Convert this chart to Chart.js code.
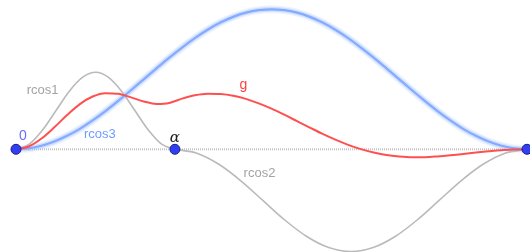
<!DOCTYPE html>
<html>
<head>
<meta charset="utf-8">
<script src="https://cdn.jsdelivr.net/npm/chart.js"></script>
<style>
    html, body { margin: 0; padding: 0; background: #fff; }
    #box { width: 530px; height: 252px; position: relative; }
</style>
</head>
<body>
<div id="box"><canvas id="grafico"></canvas></div>
<script>
// x goes from 0 (first point) to 1 (last point), alpha sits in between
const alfa = 0.311;

const xsCheio = [0, 0.025, 0.05, 0.075, 0.1, 0.125, 0.15, 0.175, 0.2, 0.225, 0.25, 0.275, 0.3, 0.325, 0.35, 0.375, 0.4, 0.425, 0.45, 0.475, 0.5,
    0.525, 0.55, 0.575, 0.6, 0.625, 0.65, 0.675, 0.7, 0.725, 0.75, 0.775, 0.8, 0.825, 0.85, 0.875, 0.9, 0.925, 0.95, 0.975, 1];
const rcos3 = [0, 0.006, 0.025, 0.055, 0.096, 0.146, 0.206, 0.273, 0.346, 0.422, 0.5, 0.578, 0.655, 0.727, 0.794, 0.854, 0.905, 0.946, 0.976, 0.994, 1.0,
    0.994, 0.976, 0.946, 0.905, 0.854, 0.794, 0.727, 0.655, 0.578, 0.5, 0.422, 0.346, 0.273, 0.206, 0.146, 0.096, 0.055, 0.025, 0.006, 0];
const g = [0, 0.020, 0.077, 0.157, 0.245, 0.323, 0.377, 0.401, 0.396, 0.371, 0.342, 0.324, 0.331, 0.362, 0.386, 0.397, 0.395, 0.383, 0.360, 0.328, 0.290,
    0.247, 0.201, 0.155, 0.110, 0.069, 0.032, 0.001, -0.023, -0.041, -0.051, -0.056, -0.056, -0.051, -0.043, -0.033, -0.023, -0.014, -0.006, -0.002, 0];

const xsRcos1 = [0, 0.026, 0.052, 0.078, 0.104, 0.130, 0.156, 0.181, 0.207, 0.233, 0.259, 0.285, 0.311];
const rcos1 = [0, 0.037, 0.138, 0.275, 0.413, 0.513, 0.55, 0.513, 0.413, 0.275, 0.138, 0.037, 0];

const xsRcos2 = [0.311, 0.354, 0.397, 0.440, 0.483, 0.526, 0.569, 0.612, 0.656, 0.699, 0.742, 0.785, 0.828, 0.871, 0.914, 0.957, 1.0];
const rcos2 = [0, -0.028, -0.107, -0.225, -0.365, -0.505, -0.623, -0.702, -0.73, -0.702, -0.623, -0.505, -0.365, -0.225, -0.107, -0.028, 0];

const pontosX = [0, alfa, 1];
const pontosY = [0, 0, 0];

function juntaPontos(xs, ys) {
    return xs.map((x, i) => ({ x: x, y: ys[i] }));
}

function linha(dados, cor, largura) {
    return {
        data: dados,
        borderColor: cor,
        borderWidth: largura,
        pointRadius: 0,
        fill: false,
        cubicInterpolationMode: 'monotone',
        clip: false
    };
}

// text labels, anchored in data coordinates
const rotulos = [
    { texto: '0', x: 0.0137, y: 0.095, cor: '#6b6bff', fonte: '14px "Liberation Sans", Arial, sans-serif' },
    { texto: 'rcos1', x: 0.052, y: 0.424, cor: '#a3a3a3', fonte: '13px "Liberation Sans", Arial, sans-serif' },
    { texto: 'rcos3', x: 0.164, y: 0.109, cor: '#6f9bff', fonte: '13px "Liberation Sans", Arial, sans-serif' },
    { texto: '\u03b1', x: 0.311, y: 0.081, cor: '#222222', fonte: 'italic 15px "DejaVu Serif", serif' },
    { texto: 'g', x: 0.445, y: 0.459, cor: '#ff4040', fonte: '14px "Liberation Sans", Arial, sans-serif' },
    { texto: 'rcos2', x: 0.4765, y: -0.169, cor: '#a3a3a3', fonte: '13px "Liberation Sans", Arial, sans-serif' }
];

const pluginRotulos = {
    id: 'rotulos',
    afterDatasetsDraw(chart) {
        const ctx = chart.ctx;
        const sx = chart.scales.x;
        const sy = chart.scales.y;
        ctx.save();
        ctx.textAlign = 'center';
        ctx.textBaseline = 'middle';
        rotulos.forEach((r) => {
            ctx.font = r.fonte;
            ctx.fillStyle = r.cor;
            ctx.fillText(r.texto, sx.getPixelForValue(r.x), sy.getPixelForValue(r.y));
        });
        ctx.restore();
    }
};

const eixo = linha(juntaPontos([0, 1], [0, 0]), '#c4c4c4', 2);
eixo.borderDash = [1, 1];
eixo.cubicInterpolationMode = 'default';

const pontos = {
    type: 'scatter',
    data: juntaPontos(pontosX, pontosY),
    pointRadius: 5,
    pointBackgroundColor: '#3040f0',
    pointBorderColor: '#1c1c8c',
    pointBorderWidth: 1,
    showLine: false,
    clip: false
};

const grafico = new Chart(document.getElementById('grafico'), {
    type: 'line',
    data: {
        datasets: [
            pontos,
            linha(juntaPontos(xsCheio, g), '#ff5050', 2),
            linha(juntaPontos(xsCheio, rcos3), '#85aaff', 2.2),
            linha(juntaPontos(xsCheio, rcos3), 'rgba(150,185,255,0.35)', 5),
            linha(juntaPontos(xsCheio, rcos3), 'rgba(170,200,255,0.2)', 8),
            linha(juntaPontos(xsRcos1, rcos1), '#bababa', 1.6),
            linha(juntaPontos(xsRcos2, rcos2), '#bababa', 1.6),
            eixo
        ]
    },
    options: {
        responsive: true,
        maintainAspectRatio: false,
        animation: false,
        layout: { padding: 0, autoPadding: false },
        plugins: {
            legend: { display: false },
            tooltip: { enabled: false }
        },
        scales: {
            x: { type: 'linear', min: -0.0313, max: 1.0059, display: false },
            y: { type: 'linear', min: -0.7336, max: 1.0664, display: false }
        }
    },
    plugins: [pluginRotulos]
});
</script>
</body>
</html>
